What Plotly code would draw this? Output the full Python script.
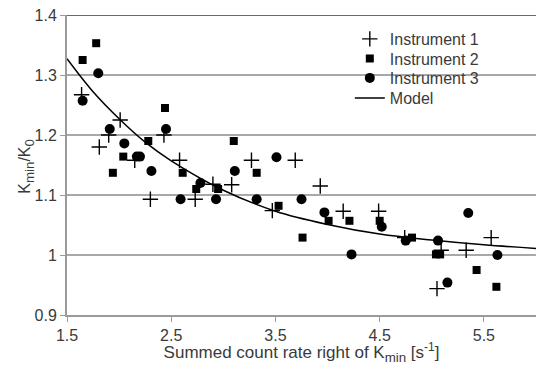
import plotly.graph_objects as go

# Instrument 1 (plus)
inst1_x = [1.64, 1.81, 1.90, 2.01, 2.15, 2.30, 2.43, 2.58, 2.73, 2.90, 3.08, 3.27,
           3.47, 3.69, 3.93, 4.15, 4.49, 4.74, 5.05, 5.09, 5.33, 5.57]
inst1_y = [1.267, 1.180, 1.200, 1.225, 1.158, 1.093, 1.200, 1.158, 1.093, 1.118, 1.117, 1.158,
           1.074, 1.158, 1.115, 1.073, 1.073, 1.029, 0.944, 1.008, 1.008, 1.029]

# Instrument 2 (squares)
inst2_x = [1.65, 1.78, 1.94, 2.04, 2.28, 2.44, 2.61, 2.74, 2.95, 3.10, 3.32, 3.53,
           3.76, 4.01, 4.21, 4.50, 4.81, 5.04, 5.08, 5.43, 5.62]
inst2_y = [1.325, 1.353, 1.137, 1.164, 1.190, 1.245, 1.137, 1.110, 1.110, 1.190, 1.137, 1.082,
           1.029, 1.057, 1.057, 1.057, 1.029, 1.001, 1.001, 0.975, 0.947]

# Instrument 3 (circles)
inst3_x = [1.65, 1.80, 1.91, 2.05, 2.17, 2.20, 2.31, 2.45, 2.59, 2.78, 2.93, 3.11,
           3.32, 3.51, 3.75, 3.97, 4.23, 4.52, 4.75, 5.06, 5.15, 5.35, 5.63]
inst3_y = [1.257, 1.303, 1.210, 1.186, 1.164, 1.164, 1.140, 1.210, 1.093, 1.120, 1.093, 1.140,
           1.093, 1.163, 1.093, 1.071, 1.001, 1.047, 1.024, 1.024, 0.954, 1.070, 1.000]

# Model curve
model_x = [1.5, 1.75, 2.0, 2.25, 2.5, 3.0, 3.5, 4.0, 4.5, 5.0, 5.5, 6.0]
model_y = [1.327, 1.272, 1.227, 1.188, 1.157, 1.108, 1.073, 1.051, 1.035, 1.025, 1.017, 1.011]

x_ticks = [1.5, 2.5, 3.5, 4.5, 5.5]
y_ticks = [0.9, 1.0, 1.1, 1.2, 1.3, 1.4]
y_tick_text = ["0.9", "1", "1.1", "1.2", "1.3", "1.4"]

FONT = "Liberation Sans, Arial, sans-serif"
TXT = "#3a3a3a"

def sub(t, px):
    # outer span sets size, <sub> then takes 70% of it
    return '<span style="font-size:%dpx"><sub>%s</sub></span>' % (px, t)

def sup(t, px):
    return '<span style="font-size:%dpx"><sup>%s</sup></span>' % (px, t)

LEG_FONT = dict(family=FONT, size=16, color=TXT)

fig = go.Figure()
fig.add_trace(go.Scatter(x=inst1_x, y=inst1_y, mode="markers", name="Instrument 1",
                         legend="legend",
                         marker=dict(symbol="cross-thin-open", size=11, color="black",
                                     line=dict(width=1.4, color="black"))))
fig.add_trace(go.Scatter(x=inst2_x, y=inst2_y, mode="markers", name="Instrument 2",
                         legend="legend2",
                         marker=dict(symbol="square", size=8, color="black")))
fig.add_trace(go.Scatter(x=inst3_x, y=inst3_y, mode="markers", name="Instrument 3",
                         legend="legend3",
                         marker=dict(symbol="circle", size=10, color="black")))
fig.add_trace(go.Scatter(x=model_x, y=model_y, mode="lines", name="Model",
                         legend="legend4",
                         line=dict(color="black", width=1.5, shape="spline")))

# dark top border at 1.4
fig.add_shape(type="line", xref="paper", yref="y", x0=0, x1=1, y0=1.4, y1=1.4,
              line=dict(color="#6a6a6a", width=2))
# white box behind the legend (hides the 1.3 gridline there)
fig.add_shape(type="rect", xref="paper", yref="paper", x0=0.636, x1=0.902,
              y0=0.70, y1=0.95, fillcolor="white", line=dict(width=0), layer="below")

fig.add_annotation(text="K" + sub("min", 19) + "/K" + sub("0", 19),
                   xref="paper", yref="paper", x=-0.087, y=0.495,
                   xanchor="center", yanchor="middle",
                   textangle=-90, showarrow=False,
                   font=dict(family=FONT, size=16, color=TXT))

leg_common = dict(xanchor="left", yanchor="top", bgcolor="rgba(0,0,0,0)",
                  borderwidth=0, font=LEG_FONT, itemwidth=30)

fig.update_layout(
    width=536, height=365,
    margin=dict(l=67, r=0, t=15, b=50),
    paper_bgcolor="white", plot_bgcolor="white",
    font=dict(family=FONT, size=16, color=TXT),
    showlegend=True,
    legend=dict(x=0.603, y=0.9767, **leg_common),
    legend2=dict(x=0.603, y=0.9117, **leg_common),
    legend3=dict(x=0.603, y=0.8467, **leg_common),
    legend4=dict(x=0.603, y=0.780, **leg_common),
    xaxis=dict(range=[1.5, 6.0], tickvals=x_ticks, ticktext=[str(v) for v in x_ticks],
               showgrid=False, zeroline=False, showline=True, linecolor="#9a9a9a",
               linewidth=2, ticks="outside", ticklen=5, tickcolor="#9a9a9a", tickwidth=1,
               tickfont=dict(size=16, color=TXT),
               title=dict(text="Summed count rate right of K" + sub("min", 19) + " [s" + sup("-1", 17) + "]",
                          standoff=2, font=dict(size=17, color=TXT))),
    yaxis=dict(range=[0.9, 1.4], tickvals=y_ticks, ticktext=y_tick_text,
               showgrid=True, gridcolor="#a8a8a8", gridwidth=1.5, zeroline=False,
               showline=True, linecolor="#9a9a9a", linewidth=2,
               ticks="outside", ticklen=5, tickcolor="#9a9a9a", tickwidth=1,
               tickfont=dict(size=16, color=TXT)),
)

fig.write_html("out.html")
